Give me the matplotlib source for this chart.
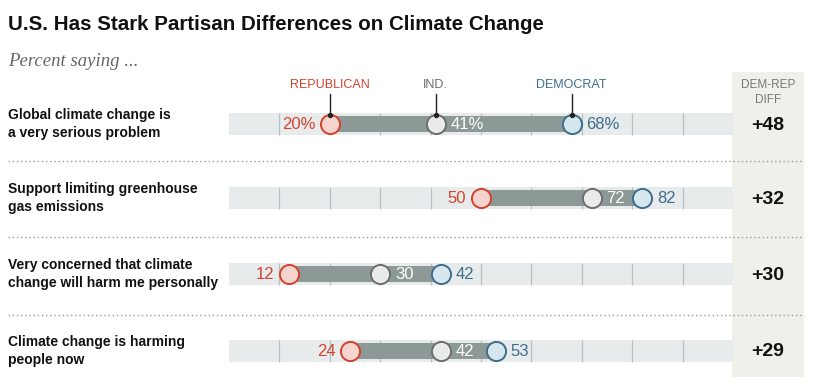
import matplotlib
matplotlib.use("Agg")
import matplotlib.pyplot as plt
from matplotlib.patches import Rectangle

# ---- data ----
questions = [
    "Global climate change is\na very serious problem",
    "Support limiting greenhouse\ngas emissions",
    "Very concerned that climate\nchange will harm me personally",
    "Climate change is harming\npeople now",
]
republican = [20, 50, 12, 24]
independent = [41, 72, 30, 42]
democrat = [68, 82, 42, 53]
diff_labels = ["+48", "+32", "+30", "+29"]
gridticks = [10, 20, 30, 40, 50, 60, 70, 80, 90]

W, H = 817, 388
fig = plt.figure(figsize=(W / 100, H / 100), dpi=100)
fig.patch.set_facecolor("white")

X0, X1 = 229, 733
ax = fig.add_axes([X0 / W, 0, (X1 - X0) / W, 1])
ax.set_xlim(0, 100)
ax.set_ylim(H, 0)
ax.axis("off")

def px(xpix):
    return (xpix - X0) / (X1 - X0) * 100

RED, RED_F = "#d2432c", "#f7d3cf"
GRY, GRY_F = "#6d6d6d", "#e9eaea"
BLU, BLU_F = "#3d6e8c", "#d5e6ee"
BAR = "#8d9997"
TRACK = "#e8ebec"
GRID = "#b9c0c1"

# diff column background
ax.add_patch(Rectangle((px(732), 72), px(804) - px(732), 305,
                       facecolor="#f0f0ea", edgecolor="none", zorder=0,
                       clip_on=False))

ycent = [124, 198, 274, 351]
num_font = "Liberation Sans"
OFF = 2.9

for i, q in enumerate(questions):
    y = ycent[i]
    r, ind, d = republican[i], independent[i], democrat[i]
    ax.barh(y, 100, left=0, height=22, color=TRACK, zorder=1)
    ax.vlines(gridticks, y - 11, y + 11, color=GRID, lw=0.9, zorder=2)
    ax.barh(y, d - r, left=r, height=16, color=BAR, zorder=3)
    ax.scatter([r], [y], s=190, facecolor=RED_F, edgecolor=RED, lw=1.4, zorder=5)
    ax.scatter([ind], [y], s=190, facecolor=GRY_F, edgecolor=GRY, lw=1.4, zorder=5)
    ax.scatter([d], [y], s=190, facecolor=BLU_F, edgecolor=BLU, lw=1.4, zorder=5)
    suf = "%" if i == 0 else ""
    ax.text(r - OFF, y + 0.5, f"{r}{suf}", color=RED, ha="right", va="center",
            fontsize=12, family=num_font, zorder=6)
    ax.text(ind + OFF, y + 0.5, f"{ind}{suf}", color="white", ha="left", va="center",
            fontsize=12, family=num_font, zorder=6)
    ax.text(d + OFF, y + 0.5, f"{d}{suf}", color=BLU, ha="left", va="center",
            fontsize=12, family=num_font, zorder=6)
    ax.text(px(8), y, q, ha="left", va="center", fontsize=10, fontweight="bold",
            family="Liberation Sans", color="#111111", linespacing=1.3)
    ax.text(px(768), y + 1, diff_labels[i], ha="center", va="center", fontsize=14,
            fontweight="bold", family="Liberation Sans", color="#111111", zorder=2)

# separators
for ys in [161, 237, 315]:
    ax.plot([px(8), px(804)], [ys, ys], color="#9a9a9a", lw=1, ls=(0, (1, 2)),
            clip_on=False, zorder=1)

# legend labels with leader lines
y0 = ycent[0]
for val, lab, col in [(republican[0], "REPUBLICAN", RED), (independent[0], "IND.", GRY),
                      (democrat[0], "DEMOCRAT", BLU)]:
    ax.text(val, 85, lab, ha="center", va="center", fontsize=9, color=col,
            family=num_font)
    ax.plot([val, val], [94, y0 - 9], color="#222222", lw=1, zorder=7)
    ax.scatter([val], [y0 - 9], s=8, color="#222222", zorder=8)

ax.text(px(768), 85, "DEM-REP", ha="center", va="center", fontsize=8.5,
        color="#777777", family=num_font, zorder=2)
ax.text(px(768), 100, "DIFF", ha="center", va="center", fontsize=8.5,
        color="#777777", family=num_font, zorder=2)

fig.text(8 / W, 1 - 24 / H, "U.S. Has Stark Partisan Differences on Climate Change",
         ha="left", va="center", fontsize=14.8, fontweight="bold",
         family="Liberation Sans", color="#111111")
fig.text(8 / W, 1 - 61 / H, "Percent saying ...", ha="left", va="center",
         fontsize=13.5, style="italic", family="Liberation Serif", color="#666666")

fig.savefig("out.png", dpi=100)
